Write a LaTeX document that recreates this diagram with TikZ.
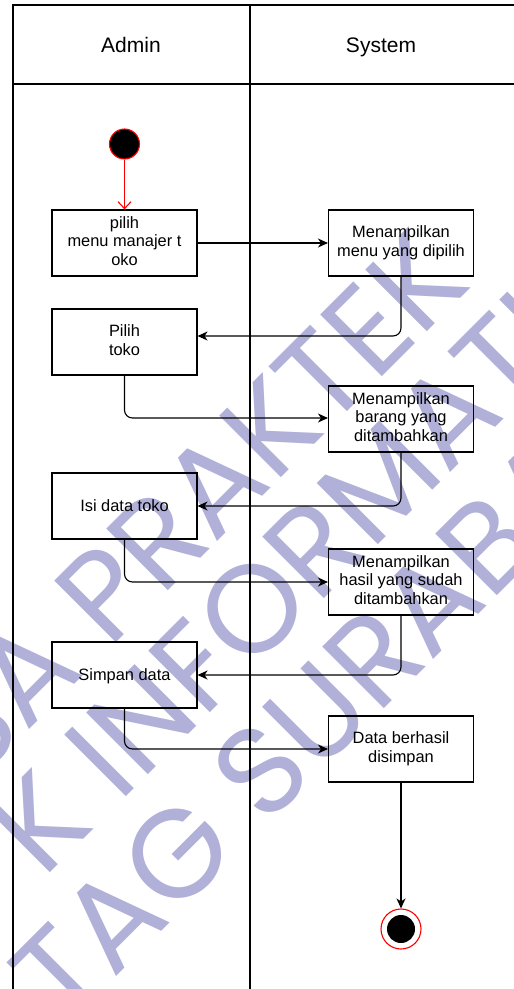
\documentclass[tikz,border=0pt]{standalone}
\usepackage{fontspec}
\setmainfont{Liberation Sans}
\newfontfamily\wmfont{Poppins}
\usetikzlibrary{arrows.meta}
\definecolor{wmblue}{RGB}{176,176,216}
\definecolor{startred}{RGB}{255,0,0}
% fixed line box so every activity label sits on the same baseline grid
\newcommand\actstrut{\rule[-4pt]{0pt}{19pt}}
\begin{document}
\begin{tikzpicture}[x=1pt,y=-1pt,
  act/.style={draw, line width=1.1pt, minimum width=145pt, minimum height=66pt,
    inner sep=0pt, align=center, font=\fontsize{16.4}{18.7}\selectfont,
    execute at begin node=\actstrut, execute at end node=\actstrut},
  flow/.style={draw, line width=1.1pt, rounded corners=8pt,
    -{Stealth[length=10pt,width=9pt,inset=3pt]}},
  lane/.style={line width=1.1pt},
  head/.style={font=\fontsize{21}{25}\selectfont, anchor=base, inner sep=0pt},
  wm/.style={text=wmblue, font=\wmfont\fontsize{125}{125}\selectfont,
    rotate=45, anchor=base west, inner sep=0pt},
  startnode/.style={circle, fill=black, draw=startred, line width=1.1pt,
    minimum size=30pt, inner sep=0pt},
  endnode/.style={circle, draw=startred, line width=1.1pt, minimum size=40pt,
    inner sep=0pt, path picture={\fill[black] (path picture bounding box.center) circle (14pt);}}
]
\useasboundingbox (0,0) rectangle (514,989);

% background watermark lettering
\begin{scope}
  \clip (0,0) rectangle (514,989);
  \node[wm] (wm1) at (161,598) {\llap{SA P}RAKTEK};
  \node[wm] (wm2) at (248,675) {\llap{K INF}ORMATIKA};
  \node[wm] (wm3) at (173,920) {\llap{TA}G SURABAYA};
\end{scope}

% swimlane pool
\draw[lane] (13,989) -- (13,5) -- (514,5);
\draw[lane] (13,84) -- (514,84);
\draw[lane] (250,5) -- (250,989);
\node[head] (hadmin) at (131,52) {Admin};
\node[head] (hsys) at (381,52) {System};

% activities
\node[startnode] (start) at (124.5,144) {};
\node[act] (b1) at (124.5,243) {pilih\\menu manajer t\\oko};
\node[act] (s1) at (401,243) {Menampilkan\\menu yang dipilih};
\node[act] (b2) at (124.5,342) {Pilih\\toko};
\node[act] (s2) at (401,419) {Menampilkan\\barang yang\\ditambahkan};
\node[act] (b3) at (124.5,506) {Isi data toko};
\node[act] (s3) at (401,582) {Menampilkan\\hasil yang sudah\\ditambahkan};
\node[act] (b4) at (124.5,675) {Simpan data};
\node[act] (s4) at (401,749) {Data berhasil\\disimpan};
\node[endnode] (end) at (401,929) {};

% control flow
\draw[startred, line width=1.1pt, -{Straight Barb[length=7pt,width=13pt]}] (start) -- (b1);
\draw[flow] (b1) -- (s1);
\draw[flow] (s1.south) |- ([yshift=6pt]b2.east);
\draw[flow] (b2.south) |- ([yshift=1pt]s2.west);
\draw[flow] (s2.south) |- (b3.east);
\draw[flow] (b3.south) |- (s3.west);
\draw[flow] (s3.south) |- (b4.east);
\draw[flow] (b4.south) |- (s4.west);
\draw[flow] (s4) -- (end);
\end{tikzpicture}
\end{document}
